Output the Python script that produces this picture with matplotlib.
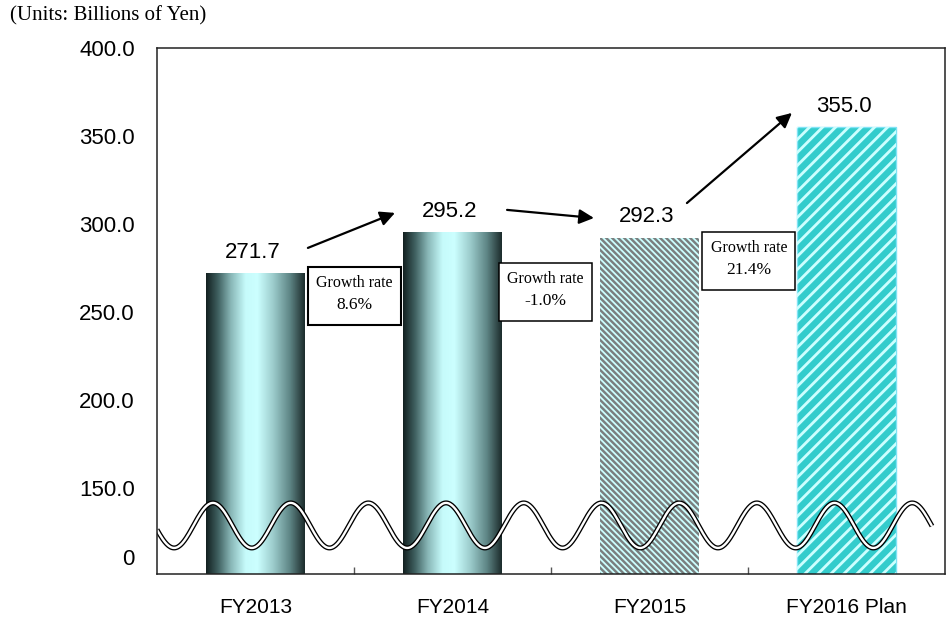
import numpy as np
import matplotlib
matplotlib.use("Agg")
import matplotlib.pyplot as plt
from matplotlib.colors import LinearSegmentedColormap
from matplotlib.patches import Rectangle
from matplotlib.collections import LineCollection

# ---- data -----------------------------------------------------------------
categories = ["FY2013", "FY2014", "FY2015", "FY2016 Plan"]
sales = [271.7, 295.2, 292.3, 355.0]          # billions of yen
growth_labels = ["8.6%", "-1.0%", "21.4%"]    # year-on-year growth
bar_styles = ["gradient", "gradient", "fine_stripes", "wide_stripes"]

# broken value axis: the lowest tick stands for zero
ytick_pos = [110.8, 150, 200, 250, 300, 350, 400]
ytick_labels = ["0", "150.0", "200.0", "250.0", "300.0", "350.0", "400.0"]

# growth-rate callouts between consecutive years (centre x, centre y)
box_centers = [(0.503, 259.1), (1.470, 261.6), (2.505, 279.0)]
box_lw = [1.5, 1.1, 1.1]
# arrows joining the value labels (start, end)
arrows = [((0.266, 286.4), (0.708, 306.3)),
          ((1.277, 308.0), (1.718, 303.4)),
          ((2.190, 311.9), (2.723, 363.1))]

SANS = "Liberation Sans"
SERIF = "Liberation Serif"
DPI = 100

fig = plt.figure(figsize=(9.47, 6.27), dpi=DPI)
ax = fig.add_axes([157 / 947, 53 / 627, 788 / 947, 526 / 627])
XLIM = (-0.5, 3.5)
YLIM = (101.1, 400)
ax.set_xlim(*XLIM)
ax.set_ylim(*YLIM)

x = np.arange(len(categories))
bars = ax.bar(x, sales, width=0.5, color="none", edgecolor="none", zorder=2)

grad_cmap = LinearSegmentedColormap.from_list(
    "cyl", [(0.0, "#132020"), (0.12, "#3f6060"), (0.25, "#88b6b6"),
            (0.40, "#c6fbfb"), (0.52, "#ccffff"), (0.68, "#9ccccc"),
            (0.85, "#5e8585"), (1.0, "#1c2c2c")])


def gradient_fill(patch):
    x0 = patch.get_x()
    x1 = x0 + patch.get_width()
    top = patch.get_y() + patch.get_height()
    y0 = max(patch.get_y(), YLIM[0])
    g = grad_cmap(np.linspace(0, 1, 256))[:, :3]
    img = np.repeat(g[None, :, :], 2, axis=0)
    ax.imshow(img, extent=(x0, x1, y0, top), origin="upper",
              interpolation="bilinear", aspect="auto", zorder=2)


def stripe_fill(patch, slope, period_px, band_px, band_color, base_color):
    """Diagonal 45-degree bands inside a bar, spaced in screen pixels."""
    patch.set_facecolor(base_color)
    x0 = patch.get_x()
    x1 = x0 + patch.get_width()
    top = patch.get_y() + patch.get_height()
    y0 = max(patch.get_y(), YLIM[0])
    (X0, Y0), (X1, Y1) = ax.transData.transform([(x0, y0), (x1, top)])
    if slope > 0:
        ks = np.arange(Y0 - X1 - period_px, Y1 - X0 + period_px, period_px)
    else:
        ks = np.arange(Y0 + X0 - period_px, Y1 + X1 + period_px, period_px)
    inv = ax.transData.inverted()
    segs = []
    for k in ks:
        pts = np.array([(X0 - 5, slope * (X0 - 5) + k), (X1 + 5, slope * (X1 + 5) + k)])
        segs.append(inv.transform(pts))
    lw_pt = band_px / np.sqrt(2) * 72 / DPI
    lc = LineCollection(segs, colors=band_color, linewidths=lw_pt, zorder=2.5,
                        capstyle="butt")
    ax.add_collection(lc, autolim=False)
    clip = Rectangle((x0, y0), x1 - x0, top - y0, transform=ax.transData)
    lc.set_clip_path(clip)


for patch, style in zip(bars.patches, bar_styles):
    if style == "gradient":
        gradient_fill(patch)
    elif style == "fine_stripes":
        stripe_fill(patch, -1, 6.0, 3.4, "#7a7f7f", "#ccffff")
    else:
        stripe_fill(patch, 1, 13.0, 4.0, "#ccffff", "#33cccc")
        patch.set_edgecolor("#7fe3f5")
        patch.set_linewidth(1.0)

ax.set_xlim(*XLIM)
ax.set_ylim(*YLIM)

# value labels
for xi, v in zip(x, sales):
    ax.annotate(f"{v:.1f}", (xi, v), xytext=(-2, 15), textcoords="offset points",
                ha="center", va="center", fontsize=16, family=SANS, zorder=6)

# growth-rate callouts
bw, bh = 0.472, 33.0
for (cx, cy), lw, lab in zip(box_centers, box_lw, growth_labels):
    ax.add_patch(Rectangle((cx - bw / 2, cy - bh / 2), bw, bh, facecolor="white",
                           edgecolor="black", lw=lw, zorder=5))
    ax.text(cx, cy + 7.2, "Growth rate", ha="center", va="center",
            fontsize=11.5, family=SERIF, zorder=6)
    ax.text(cx, cy - 5.3, lab, ha="center", va="center",
            fontsize=12.5, family=SERIF, zorder=6)

for (sx, sy), (ex, ey) in arrows:
    ax.annotate("", xy=(ex, ey), xytext=(sx, sy),
                arrowprops=dict(arrowstyle="-|>", color="black", lw=1.6,
                                mutation_scale=22, shrinkA=0, shrinkB=0),
                zorder=6)

# wavy break line across the lower part of the value axis
wx = np.linspace(-0.5, 3.434, 800)
wy = 128.7 + 12.8 * np.cos(2 * np.pi * (wx + 0.216) / 0.3944)
ax.plot(wx, wy, color="black", lw=3.6, solid_capstyle="butt", zorder=4)
ax.plot(wx, wy, color="white", lw=1.7, solid_capstyle="butt", zorder=4.1)

# axes styling
for s in ax.spines.values():
    s.set_color("#222222")
    s.set_linewidth(1.1)
    s.set_zorder(7)

ax.set_yticks(ytick_pos)
ax.set_yticklabels(ytick_labels)
ax.tick_params(axis="y", length=0, pad=16, labelsize=16)
ax.set_xticks(x)
ax.set_xticklabels(categories)
ax.tick_params(axis="x", which="major", length=0, pad=17, labelsize=15)
ax.set_xticks(x[:-1] + 0.5, minor=True)
ax.tick_params(axis="x", which="minor", direction="in", length=5, width=1,
               color="#555555")
for lab in ax.get_xticklabels() + ax.get_yticklabels():
    lab.set_family(SANS)

fig.text(10 / 947, 1 - 16 / 627, "(Units: Billions of Yen)", ha="left",
         va="center", fontsize=15, family=SERIF)

fig.savefig("out.png", dpi=DPI)
